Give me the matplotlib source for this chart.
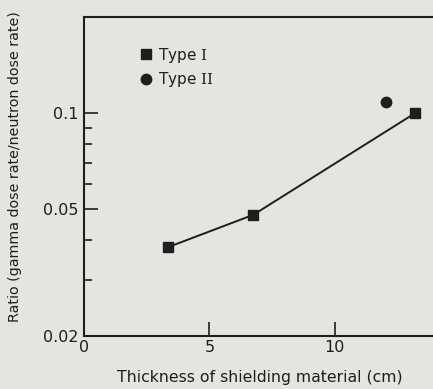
import matplotlib.pyplot as plt
from matplotlib.ticker import FixedLocator, NullFormatter

# ===============================
# DATA
# ===============================
type1_x = [3.35, 6.75, 13.2]
type1_y = [0.038, 0.048, 0.100]
type2_x = [12.05]
type2_y = [0.108]

y_major = [0.02, 0.05, 0.1]
y_major_labels = ["0.02", "0.05", "0.1"]
y_minor = [0.03, 0.04, 0.06, 0.07, 0.08, 0.09]
x_major = [0, 5, 10]

# ===============================
# PLOT
# ===============================
plt.rcParams["mathtext.fontset"] = "dejavuserif"
paper = "#e4e4e1"
ink = "#1e1e1e"

fig = plt.figure(figsize=(4.33, 3.89), dpi=100, facecolor=paper)
ax = fig.add_axes([0.194, 0.136, 0.84, 0.82], facecolor=paper)

ax.set_yscale("log")
ax.set_xlim(0, 14.5)
ax.set_ylim(0.02, 0.2)

ax.plot(type1_x, type1_y, color=ink, linewidth=1.4, marker="s",
        markersize=7, label="Type $\\mathrm{I}$")
ax.plot(type2_x, type2_y, color=ink, linestyle="none", marker="o",
        markersize=7.5, label="Type $\\mathrm{II}$")

ax.yaxis.set_major_locator(FixedLocator(y_major))
ax.set_yticklabels(y_major_labels)
ax.yaxis.set_minor_locator(FixedLocator(y_minor))
ax.yaxis.set_minor_formatter(NullFormatter())
ax.xaxis.set_major_locator(FixedLocator(x_major))
ax.xaxis.set_minor_locator(FixedLocator([]))

ax.tick_params(axis="both", which="major", direction="in", length=10,
               width=1.2, colors=ink, labelsize=11.5, pad=4)
ax.tick_params(axis="y", which="minor", direction="in", length=6,
               width=1.2, colors=ink)
ax.tick_params(axis="x", which="major", pad=3)
for s in ax.spines.values():
    s.set_linewidth(1.5)
    s.set_color(ink)

ax.set_xlabel("Thickness of shielding material (cm)", fontsize=11.3, color=ink)
ax.set_ylabel("Ratio (gamma dose rate/neutron dose rate)", fontsize=10.3,
              color=ink)
ax.xaxis.set_label_coords(0.484, -0.105)
ax.yaxis.set_label_coords(-0.17, 0.53)

leg = ax.legend(loc="upper left", bbox_to_anchor=(0.14, 0.93), frameon=False,
                fontsize=11, handlelength=0.6, handletextpad=0.5,
                labelspacing=0.35, borderaxespad=0)
for h in leg.legend_handles:
    h.set_linestyle("none")
for t in leg.get_texts():
    t.set_color(ink)

plt.savefig("out.png", dpi=100, facecolor=paper)
